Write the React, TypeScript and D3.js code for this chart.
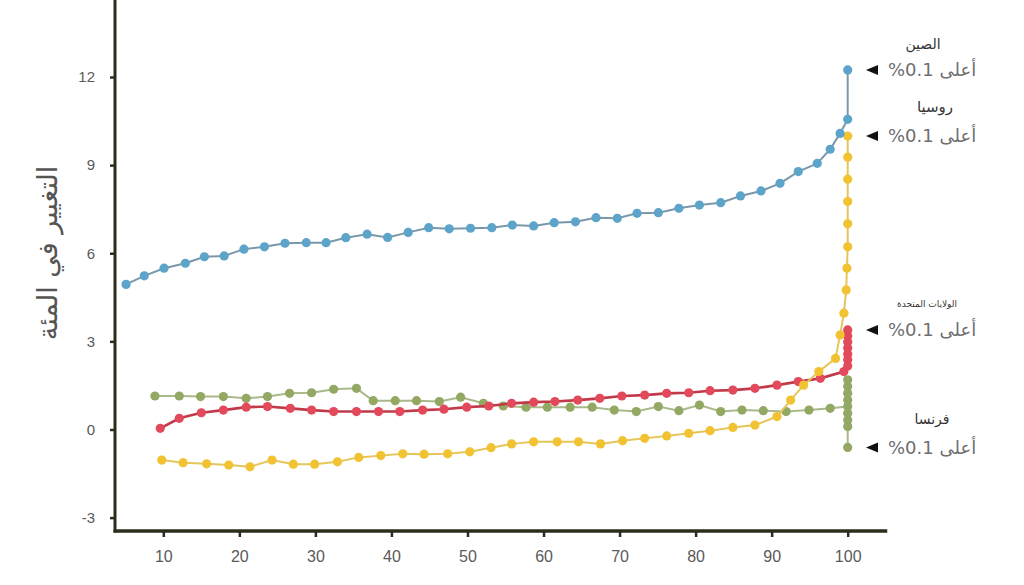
import React, { useEffect, useRef } from "react";
import * as d3 from "d3";

// ---- Data (percentile rank vs. change in percent) ----
const xTicks = [10, 20, 30, 40, 50, 60, 70, 80, 90, 100];
const yTicks = [-3, 0, 3, 6, 9, 12];

const chinaX = [5.1, 7.5, 10.1, 12.9, 15.4, 18.0, 20.6, 23.3, 26.0, 28.8, 31.4, 34.0, 36.8, 39.5, 42.2, 44.9, 47.6, 50.4, 53.2, 55.9, 58.7, 61.4, 64.2, 66.9, 69.7, 72.3, 75.1, 77.8, 80.5, 83.3, 85.9, 88.6, 91.1, 93.5, 96.0, 97.7, 99.0, 100, 100];
const chinaY = [4.94, 5.23, 5.49, 5.66, 5.88, 5.91, 6.14, 6.22, 6.34, 6.36, 6.36, 6.53, 6.65, 6.54, 6.71, 6.87, 6.83, 6.85, 6.87, 6.96, 6.93, 7.04, 7.07, 7.21, 7.19, 7.36, 7.38, 7.53, 7.64, 7.72, 7.95, 8.12, 8.38, 8.78, 9.06, 9.54, 10.08, 10.56, 12.24];

const franceX = [8.9, 12.1, 14.9, 17.9, 20.9, 23.7, 26.6, 29.5, 32.4, 35.4, 37.6, 40.5, 43.3, 46.3, 49.1, 52.1, 54.7, 57.7, 60.5, 63.5, 66.4, 69.3, 72.2, 75.1, 77.8, 80.5, 83.3, 86.1, 88.9, 91.9, 94.9, 97.7, 100, 100, 100, 100, 100, 100, 100, 100, 100];
const franceY = [1.14, 1.14, 1.12, 1.12, 1.06, 1.12, 1.23, 1.25, 1.37, 1.40, 0.98, 0.98, 0.98, 0.95, 1.10, 0.89, 0.80, 0.76, 0.76, 0.76, 0.76, 0.66, 0.61, 0.78, 0.64, 0.83, 0.61, 0.66, 0.64, 0.61, 0.66, 0.72, 0.78, 1.00, 1.23, 1.46, 1.69, 0.55, 0.32, 0.10, -0.61];

const usX = [9.6, 12.1, 15.0, 17.9, 20.9, 23.7, 26.7, 29.5, 32.4, 35.4, 38.3, 41.1, 44.1, 46.9, 49.9, 52.8, 55.8, 58.7, 61.5, 64.5, 67.4, 70.3, 73.3, 76.2, 79.1, 81.9, 84.9, 87.8, 90.7, 93.5, 96.4, 99.5, 100, 100, 100, 100, 100, 100, 100];
const usY = [0.04, 0.38, 0.57, 0.66, 0.76, 0.78, 0.72, 0.66, 0.61, 0.61, 0.61, 0.61, 0.66, 0.69, 0.76, 0.80, 0.89, 0.93, 0.95, 1.00, 1.06, 1.14, 1.17, 1.23, 1.25, 1.32, 1.34, 1.40, 1.51, 1.63, 1.74, 1.97, 2.16, 2.37, 2.57, 2.77, 2.98, 3.18, 3.39];

const russiaX = [9.8, 12.6, 15.7, 18.6, 21.4, 24.3, 27.1, 29.9, 32.9, 35.7, 38.6, 41.5, 44.3, 47.4, 50.3, 53.1, 55.8, 58.7, 61.8, 64.6, 67.5, 70.4, 73.3, 76.2, 79.1, 81.9, 84.9, 87.8, 90.7, 92.5, 94.2, 96.2, 98.4, 99.0, 99.5, 99.8, 99.9, 100, 100, 100, 100, 100, 100];
const russiaY = [-1.04, -1.13, -1.17, -1.21, -1.27, -1.04, -1.18, -1.18, -1.10, -0.95, -0.89, -0.83, -0.84, -0.83, -0.76, -0.62, -0.49, -0.42, -0.42, -0.42, -0.49, -0.38, -0.30, -0.22, -0.13, -0.04, 0.07, 0.15, 0.44, 1.00, 1.51, 1.97, 2.42, 3.22, 3.96, 4.75, 5.49, 6.22, 7.00, 7.76, 8.52, 9.27, 9.99];

const yTitle = "التغيير في المئة";
const topLabel = "%0.1 أعلى";

const series = [
  { name: "فرنسا", xs: franceX, ys: franceY, dot: "#93a862", line: "#a9b98a", lw: 2, anchor: "min", nameSize: 14, nameDx: 932, nameDy: -28 },
  { name: "الولايات المتحدة", xs: usX, ys: usY, dot: "#e24a5c", line: "#c2394a", lw: 2.6, anchor: "max", nameSize: 9, nameDx: 927, nameDy: -26 },
  { name: "روسيا", xs: russiaX, ys: russiaY, dot: "#f1c232", line: "#e6c65a", lw: 2, anchor: "max", nameSize: 15, nameDx: 935, nameDy: -29 },
  { name: "الصين", xs: chinaX, ys: chinaY, dot: "#5da4cb", line: "#7b97aa", lw: 2, anchor: "max", nameSize: 14, nameDx: 923, nameDy: -26 },
];

export default function App() {
  const ref = useRef<SVGSVGElement>(null);

  useEffect(() => {
    const svg = d3.select(ref.current);
    svg.selectAll("*").remove();

    const x = d3.scaleLinear().domain([10, 100]).range([163.3, 847.7]);
    const y = d3.scaleLinear().domain([-3, 12]).range([517.6, 77]);
    const axisColor = "#2d2d1c";
    const labelFont = "'Liberation Sans', Arial, sans-serif";
    const arabicFont = "'DejaVu Sans', sans-serif";

    // axes
    const xAxisY = 531;
    const yAxisX = 115;
    const gx = svg.append("g").attr("transform", `translate(0,${xAxisY})`)
      .call(d3.axisBottom(x).tickValues(xTicks).tickFormat((d: any) => String(d)).tickSize(6).tickPadding(14) as any);
    gx.select(".domain").remove();
    gx.selectAll(".tick line").attr("stroke", axisColor).attr("stroke-width", 2.5);
    gx.selectAll(".tick text").attr("fill", "#5a5a5a").attr("font-size", 16)
      .attr("font-family", labelFont);

    const gy = svg.append("g").attr("transform", `translate(${yAxisX},0)`)
      .call(d3.axisLeft(y).tickValues(yTicks).tickFormat((d: any) => String(d)).tickSize(5).tickPadding(15) as any);
    gy.select(".domain").remove();
    gy.selectAll(".tick line").attr("stroke", axisColor).attr("stroke-width", 2.5);
    gy.selectAll(".tick text").attr("fill", "#5a5a5a").attr("font-size", 15)
      .attr("font-family", labelFont);

    svg.append("line").attr("x1", yAxisX).attr("x2", yAxisX)
      .attr("y1", 0).attr("y2", xAxisY + 1.5)
      .attr("stroke", axisColor).attr("stroke-width", 3);
    svg.append("line").attr("x1", yAxisX - 1.5).attr("x2", x(105.2))
      .attr("y1", xAxisY).attr("y2", xAxisY)
      .attr("stroke", axisColor).attr("stroke-width", 3.5);

    // y title
    svg.append("text")
      .attr("transform", "translate(57,253) rotate(-90)")
      .attr("text-anchor", "middle")
      .attr("font-family", arabicFont)
      .attr("font-size", 27)
      .attr("fill", "#555")
      .text(yTitle);

    series.forEach((s) => {
      const pts = s.xs.map((xv, i) => [x(xv), y(s.ys[i])] as [number, number]);
      svg.append("path")
        .attr("d", d3.line()(pts) as string)
        .attr("fill", "none")
        .attr("stroke", s.line)
        .attr("stroke-width", s.lw);
      svg.append("g").selectAll("circle").data(pts).join("circle")
        .attr("cx", (d) => d[0]).attr("cy", (d) => d[1])
        .attr("r", 4.6).attr("fill", s.dot);
    });

    // annotations
    series.forEach((s) => {
      const v = s.anchor === "min" ? (d3.min(s.ys) as number) : (d3.max(s.ys) as number);
      const ay = y(v);
      svg.append("path")
        .attr("d", `M866,${ay} L878,${ay - 5} L878,${ay + 5} Z`)
        .attr("fill", "#111");
      svg.append("text")
        .attr("x", 888).attr("y", ay)
        .attr("dy", "0.35em")
        .attr("font-family", arabicFont)
        .attr("font-size", 18)
        .attr("fill", "#6e6e6e")
        .text(topLabel);
      svg.append("text")
        .attr("x", s.nameDx).attr("y", ay + s.nameDy)
        .attr("dy", "0.35em")
        .attr("text-anchor", "middle")
        .attr("font-family", arabicFont)
        .attr("font-size", s.nameSize)
        .attr("fill", "#333")
        .text(s.name);
    });
  }, []);

  return (
    <svg
      ref={ref}
      width={1024}
      height={585}
      style={{ position: "absolute", left: 0, top: 0, background: "#fff" }}
    />
  );
}
